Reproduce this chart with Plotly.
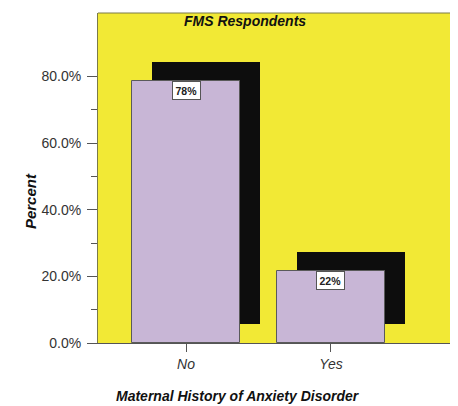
import plotly.graph_objects as go

categories = ["No", "Yes"]
percent = [78.5, 21.6]
labels = ["78%", "22%"]
y_ticks = [0, 20, 40, 60, 80]
y_tick_text = ["0.0%", "20.0%", "40.0%", "60.0%", "80.0%"]
y_minor_ticks = [10, 30, 50, 70]

FONT = "Liberation Sans, Arial, sans-serif"
YELLOW = "#F2E935"
LILAC = "#C8B6D6"

xpos = list(range(len(categories)))
shadow_dx = 0.138
shadow_dy = 5.8

fig = go.Figure()
fig.add_trace(go.Bar(
    x=[p + shadow_dx for p in xpos], y=percent, base=[shadow_dy] * len(percent),
    width=0.745, marker=dict(color="#0d0d0d", line=dict(width=0)),
    hoverinfo="skip", showlegend=False))
fig.add_trace(go.Bar(
    x=xpos, y=percent, width=0.745,
    marker=dict(color=LILAC, line=dict(color="#5a5a5a", width=1)),
    showlegend=False))

for p, v, t in zip(xpos, percent, labels):
    fig.add_annotation(x=p, y=v, yref="y", xref="x", text="<b>%s</b>" % t,
                       showarrow=False, yanchor="top", yshift=0,
                       font=dict(family=FONT, size=10.5, color="#222"),
                       bgcolor="white", bordercolor="#555", borderwidth=1, borderpad=2.5)

fig.add_annotation(xref="paper", yref="paper", x=0.408, y=0.976, yanchor="middle",
                   text="<b><i>FMS Respondents</i></b>",
                   showarrow=False, font=dict(family=FONT, size=14, color="#111"))
fig.add_annotation(xref="paper", yref="paper", x=-0.189, y=0.43, text="<b><i>Percent</i></b>",
                   textangle=-90, showarrow=False, xanchor="center",
                   font=dict(family=FONT, size=15, color="#111"))
fig.add_annotation(xref="paper", yref="paper", x=0.389, y=-0.16, text="<b><i>Maternal History of Anxiety Disorder</i></b>",
                   showarrow=False, yanchor="middle",
                   font=dict(family=FONT, size=14, color="#111"))

fig.update_layout(
    width=450, height=398,
    margin=dict(l=90, r=0, t=5, b=63),
    paper_bgcolor="white", plot_bgcolor=YELLOW,
    barmode="overlay", bargap=0,
    xaxis=dict(range=[-0.607, 1.876], tickvals=xpos, ticktext=["<i>%s</i>" % c for c in categories],
               ticks="outside", ticklen=8, tickcolor="#555", showgrid=False, zeroline=False,
               showline=True, linecolor="#555", linewidth=1,
               tickfont=dict(family=FONT, size=14, color="#333")),
    yaxis=dict(range=[0, 99], tickvals=y_ticks, ticktext=y_tick_text,
               ticks="outside", ticklen=10, tickcolor="#555", showgrid=False, zeroline=False,
               showline=True, linecolor="#7a7a4a", linewidth=1, ticklabelstandoff=3,
               tickfont=dict(family=FONT, size=14, color="#333")),
    yaxis2=dict(range=[0, 99], overlaying="y", side="left", tickvals=y_minor_ticks,
                ticks="outside", ticklen=6, tickcolor="#555", showticklabels=False,
                showgrid=False, zeroline=False, showline=False),
)
fig.add_trace(go.Scatter(x=[None], y=[None], yaxis="y2", showlegend=False, hoverinfo="skip"))
fig.add_shape(type="line", xref="paper", yref="paper", x0=0, x1=1, y0=1, y1=1,
              line=dict(color="#7a7a4a", width=1))

fig.write_html("out.html")
